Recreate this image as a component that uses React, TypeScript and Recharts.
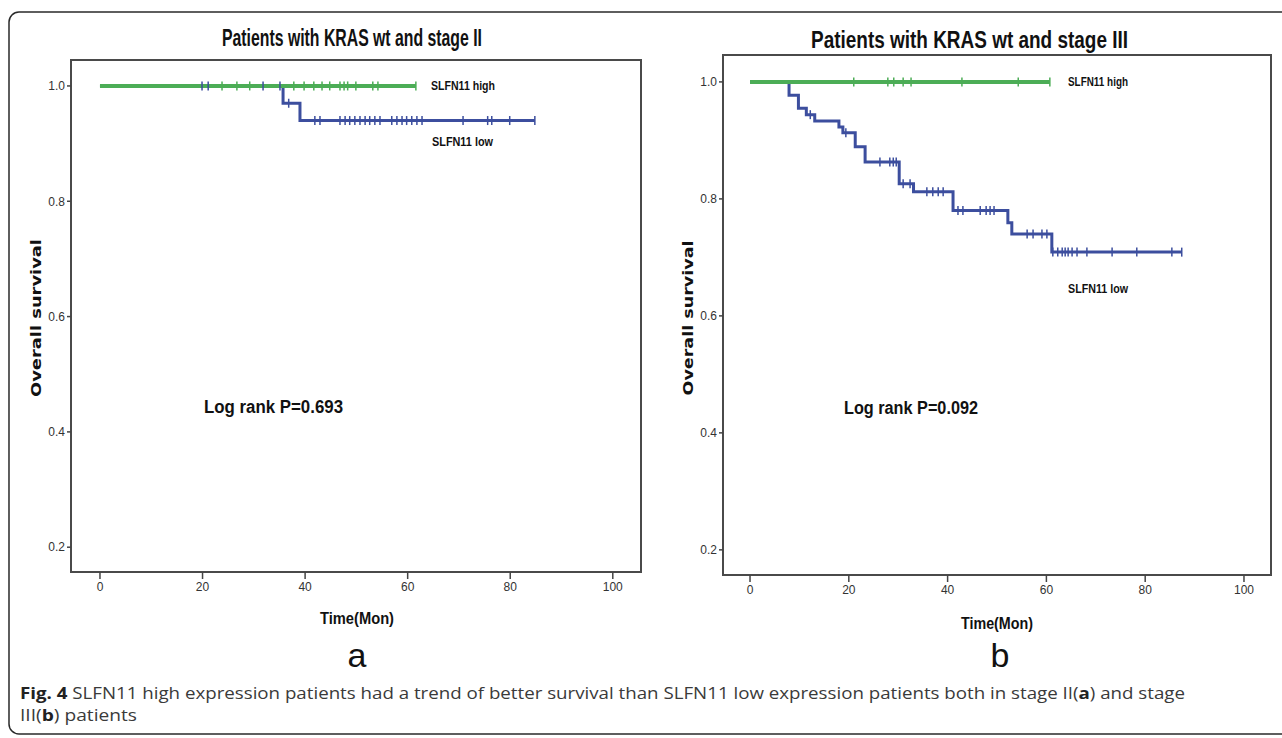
import { LineChart, Line, XAxis, YAxis, ReferenceArea } from 'recharts';

// Panel a: KRAS wt, stage II
const A_HIGH_T = [0, 61.6];
const A_HIGH_S = [1, 1];
const A_HIGH_CENSOR = [23.8, 26.7, 29.2, 37.8, 39.8, 41.7, 43.3, 44.8, 46.8, 47.6, 48.3, 49.9, 53.2, 54.2, 61.6];
const A_LOW_T = [0, 35.7, 39.0, 84.8];
const A_LOW_S = [1, 0.97, 0.94, 0.94];
const A_LOW_CENSOR = [19.9, 21.1, 31.8, 35.1, 36.8, 41.9, 42.9, 46.8, 47.8, 48.7, 49.7, 50.7, 51.7, 52.6, 53.6, 54.6, 56.9, 57.9, 58.9, 59.8, 60.8, 61.8, 62.8, 70.8, 75.6, 76.4, 79.9, 84.8];

// Panel b: KRAS wt, stage III
const B_HIGH_T = [0, 60.7];
const B_HIGH_S = [1, 1];
const B_HIGH_CENSOR = [21.0, 27.9, 29.1, 31.0, 32.6, 42.9, 54.3, 60.7];
const B_LOW_T = [0, 7.9, 9.8, 11.4, 13.1, 18.0, 18.8, 21.3, 23.3, 30.2, 33.1, 41.1, 52.2, 53.0, 61.1, 87.4];
const B_LOW_S = [1, 0.977, 0.955, 0.944, 0.933, 0.923, 0.913, 0.889, 0.863, 0.826, 0.812, 0.78, 0.759, 0.74, 0.709, 0.709];
const B_LOW_CENSOR = [12.2, 19.4, 26.3, 28.3, 29.0, 29.6, 31.0, 32.4, 35.8, 37.0, 38.1, 39.1, 42.1, 43.1, 46.6, 47.8, 48.6, 49.4, 56.1, 57.3, 59.1, 60.1, 61.3, 62.3, 63.2, 63.8, 64.4, 65.2, 66.2, 68.2, 73.3, 78.3, 85.4, 87.4];

const X_TICKS = [0, 20, 40, 60, 80, 100];
const Y_TICKS = [0.2, 0.4, 0.6, 0.8, 1.0];

const GREEN = '#4cad56';
const BLUE = '#3c4e9e';
const NARROW = "'Liberation Sans Narrow', 'Arial Narrow', 'Liberation Sans', sans-serif";

const toRows = (t: number[], s: number[]) => t.map((v, i) => ({ t: v, s: s[i] }));

// survival level at a censor time
const levelAt = (t: number[], s: number[], x: number) => {
  let lvl = s[0];
  for (let i = 0; i < t.length; i++) if (t[i] <= x) lvl = s[i];
  return lvl;
};

const censorRows = (t: number[], s: number[], c: number[]) => c.map(x => ({ t: x, s: levelAt(t, s, x) }));

const censorDot = (color: string) => (props: any) => (
  <line
    key={`c-${props.index}`}
    x1={props.cx}
    x2={props.cx}
    y1={props.cy - 4.5}
    y2={props.cy + 4.5}
    stroke={color}
    strokeWidth={1.5}
  />
);

interface PanelProps {
  left: number;
  width: number;
  margin: { top: number; right: number; bottom: number; left: number };
  xDomain: [number, number];
  yDomain: [number, number];
  low: { t: number[]; s: number[]; c: number[] };
  high: { t: number[]; s: number[]; c: number[] };
}

function KMPanel({ left, width, margin, xDomain, yDomain, low, high }: PanelProps) {
  const tickStyle = { fill: '#333', fontSize: 12, fontFamily: NARROW };
  return (
    <div style={{ position: 'absolute', left, top: 0 }}>
      <LineChart width={width} height={738} margin={margin}>
        <XAxis
          type="number"
          dataKey="t"
          domain={xDomain}
          ticks={X_TICKS}
          allowDataOverflow
          axisLine={false}
          tickLine={{ stroke: '#444', strokeWidth: 1.5 }}
          tickSize={7}
          tickMargin={3}
          tick={tickStyle}
          height={30}
        />
        <YAxis
          type="number"
          domain={yDomain}
          ticks={Y_TICKS}
          allowDataOverflow
          axisLine={false}
          tickLine={{ stroke: '#444', strokeWidth: 1.5 }}
          tickSize={4}
          tickMargin={2}
          tick={tickStyle}
          tickFormatter={(v: number) => v.toFixed(1)}
          width={40}
        />
        <ReferenceArea
          x1={xDomain[0]}
          x2={xDomain[1]}
          y1={yDomain[0]}
          y2={yDomain[1]}
          fill="none"
          stroke="#4a4a4a"
          strokeWidth={2}
        />
        <Line data={toRows(low.t, low.s)} dataKey="s" type="stepAfter" stroke={BLUE} strokeWidth={3} dot={false} activeDot={false} isAnimationActive={false} />
        <Line data={toRows(high.t, high.s)} dataKey="s" type="stepAfter" stroke={GREEN} strokeWidth={4} dot={false} activeDot={false} isAnimationActive={false} />
        <Line data={censorRows(high.t, high.s, high.c)} dataKey="s" stroke="none" dot={censorDot(GREEN)} activeDot={false} isAnimationActive={false} />
        <Line data={censorRows(low.t, low.s, low.c)} dataKey="s" stroke="none" dot={censorDot(BLUE)} activeDot={false} isAnimationActive={false} />
      </LineChart>
    </div>
  );
}

export default function App() {
  const bold = { fontFamily: NARROW, fontWeight: 700, fill: '#111' } as const;
  return (
    <div style={{ position: 'absolute', left: 0, top: 0, width: 1282, height: 738, background: '#fff', overflow: 'hidden' }}>
      <KMPanel
        left={0}
        width={700}
        margin={{ top: 60, right: 59, bottom: 136, left: 31 }}
        xDomain={[-5.65, 105.5]}
        yDomain={[0.157, 1.045]}
        low={{ t: A_LOW_T, s: A_LOW_S, c: A_LOW_CENSOR }}
        high={{ t: A_HIGH_T, s: A_HIGH_S, c: A_HIGH_CENSOR }}
      />
      <KMPanel
        left={650}
        width={632}
        margin={{ top: 55, right: 11, bottom: 133, left: 33 }}
        xDomain={[-5.47, 105.47]}
        yDomain={[0.157, 1.046]}
        low={{ t: B_LOW_T, s: B_LOW_S, c: B_LOW_CENSOR }}
        high={{ t: B_HIGH_T, s: B_HIGH_S, c: B_HIGH_CENSOR }}
      />
      <svg width={1282} height={738} style={{ position: 'absolute', left: 0, top: 0, pointerEvents: 'none' }}>
        <rect x={9} y={12} width={1290} height={722} rx={10} fill="none" stroke="#2a2a2a" strokeWidth={1.5} />

        <text x={222} y={46} fontSize={23} textLength={260} lengthAdjust="spacingAndGlyphs" {...bold}>Patients with KRAS wt and stage II</text>
        <text x={811} y={48} fontSize={23} textLength={317} lengthAdjust="spacingAndGlyphs" {...bold}>Patients with KRAS wt and stage III</text>

        <text x={431} y={90} fontSize={13} textLength={64} lengthAdjust="spacingAndGlyphs" {...bold}>SLFN11 high</text>
        <text x={432} y={146} fontSize={13} textLength={61} lengthAdjust="spacingAndGlyphs" {...bold}>SLFN11 low</text>
        <text x={1068} y={86} fontSize={13} textLength={60} lengthAdjust="spacingAndGlyphs" {...bold}>SLFN11 high</text>
        <text x={1068} y={293} fontSize={13} textLength={60} lengthAdjust="spacingAndGlyphs" {...bold}>SLFN11 low</text>

        <text x={204} y={413} fontSize={18} textLength={139} lengthAdjust="spacingAndGlyphs" {...bold}>Log rank P=0.693</text>
        <text x={844} y={414} fontSize={18} textLength={134} lengthAdjust="spacingAndGlyphs" {...bold}>Log rank P=0.092</text>

        <text x={320} y={624} fontSize={16} textLength={74} lengthAdjust="spacingAndGlyphs" {...bold}>Time(Mon)</text>
        <text x={961} y={629} fontSize={16} textLength={72} lengthAdjust="spacingAndGlyphs" {...bold}>Time(Mon)</text>

        <text transform="translate(41 318) rotate(-90)" textAnchor="middle" fontSize={14} fontFamily="'DejaVu Sans', sans-serif" fontWeight={700} fill="#111" textLength={158} lengthAdjust="spacingAndGlyphs">Overall survival</text>
        <text transform="translate(693 318) rotate(-90)" textAnchor="middle" fontSize={14} fontFamily="'DejaVu Sans', sans-serif" fontWeight={700} fill="#111" textLength={155} lengthAdjust="spacingAndGlyphs">Overall survival</text>

        <text x={357} y={667} textAnchor="middle" fontSize={34} fontFamily="'Liberation Sans', Arial, sans-serif" fill="#111">a</text>
        <text x={1000} y={667} textAnchor="middle" fontSize={34} fontFamily="'Liberation Sans', Arial, sans-serif" fill="#111">b</text>

        <text x={20} y={699} fontSize={16.5} fontFamily="'Open Sans', sans-serif" fill="#3a3a3a" textLength={1165} lengthAdjust="spacingAndGlyphs">
          <tspan fontWeight={700} fill="#222">Fig. 4</tspan> SLFN11 high expression patients had a trend of better survival than SLFN11 low expression patients both in stage II(<tspan fontWeight={700} fill="#222">a</tspan>) and stage
        </text>
        <text x={20} y={721} fontSize={16.5} fontFamily="'Open Sans', sans-serif" fill="#3a3a3a" textLength={117} lengthAdjust="spacingAndGlyphs">
          III(<tspan fontWeight={700} fill="#222">b</tspan>) patients
        </text>
      </svg>
    </div>
  );
}
